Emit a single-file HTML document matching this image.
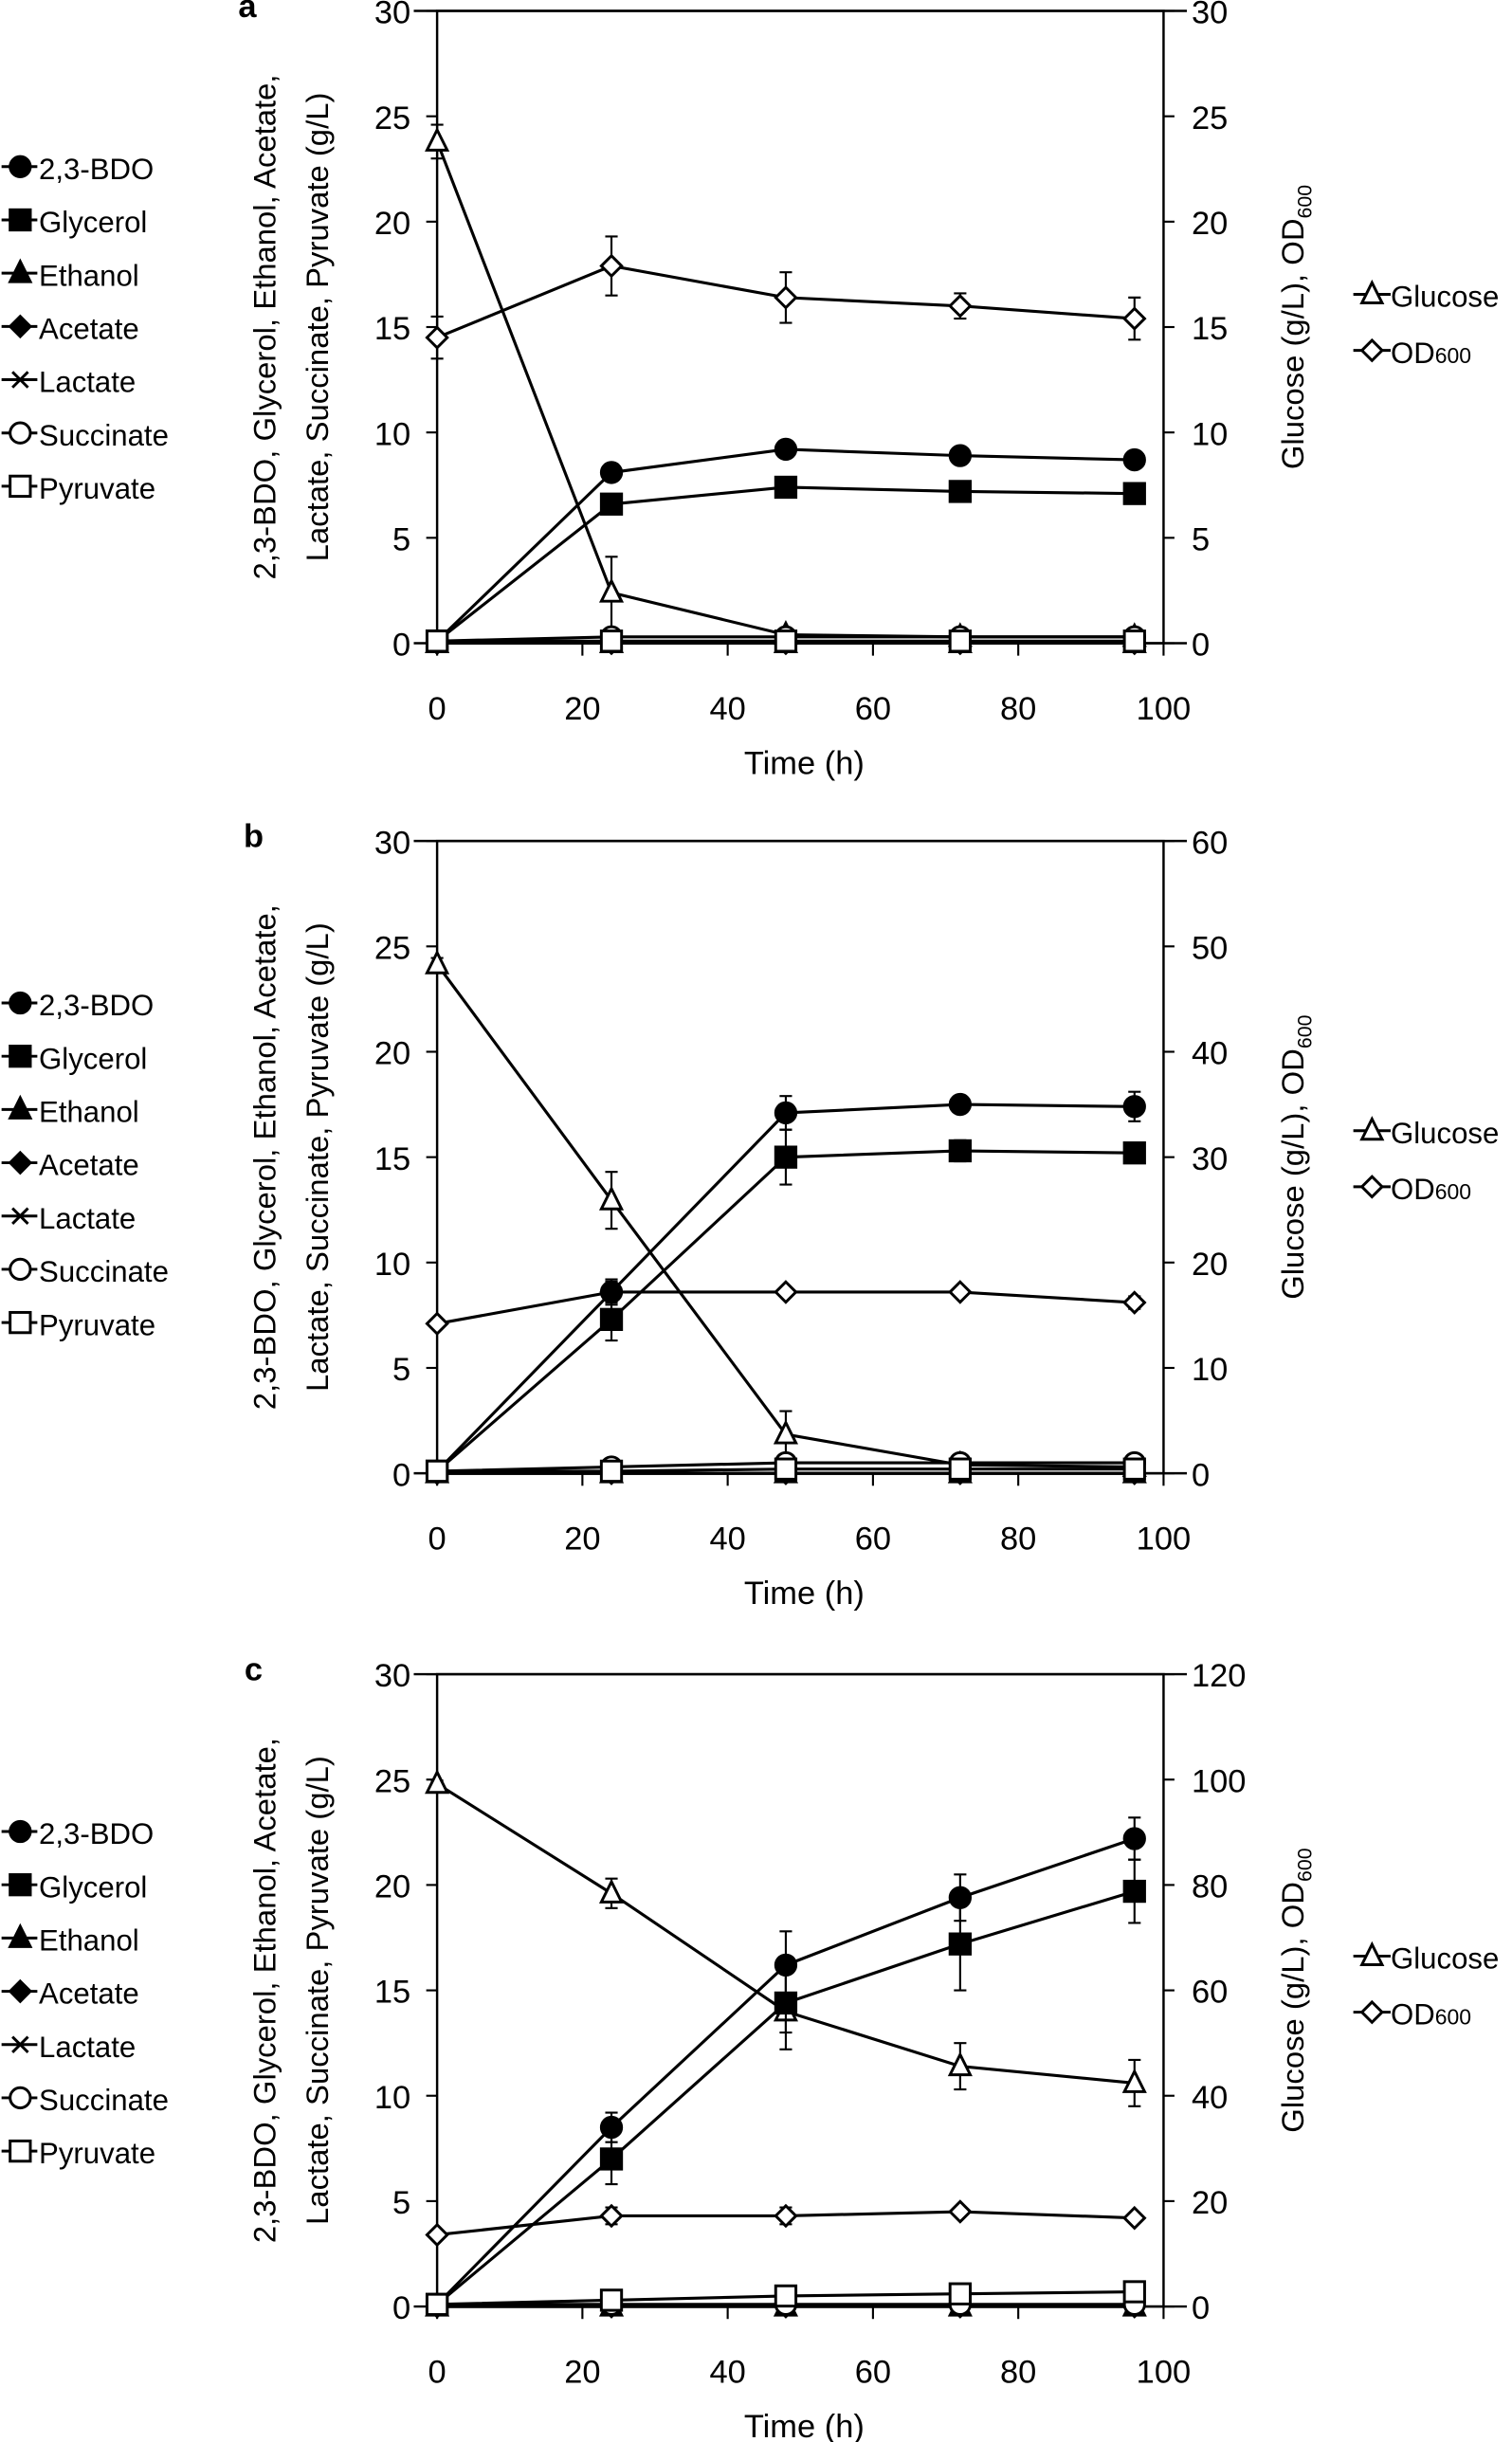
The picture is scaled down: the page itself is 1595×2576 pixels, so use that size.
<!DOCTYPE html>
<html><head><meta charset="utf-8"><style>
html,body{margin:0;padding:0;background:#fff;}
svg{display:block;}
text{font-family:"Liberation Sans",Arial,sans-serif;fill:#000;}
</style></head><body>
<svg id="chart" width="1595" height="2576" viewBox="0 0 972 1568" preserveAspectRatio="none" xmlns="http://www.w3.org/2000/svg"></svg>
<script>
const times = [0, 24, 48, 72, 96];
const xTicks = [0, 20, 40, 60, 80, 100];
const leftTicks = [0, 5, 10, 15, 20, 25, 30];
const rightTicksA = [0, 5, 10, 15, 20, 25, 30];
const rightTicksB = [0, 10, 20, 30, 40, 50, 60];
const rightTicksC = [0, 20, 40, 60, 80, 100, 120];

// Panel a
const bdoA = [0.1, 8.1, 9.2, 8.9, 8.7];
const glyA = [0.1, 6.6, 7.4, 7.2, 7.1];
const sucA = [0.1, 0.3, 0.3, 0.3, 0.3];
const pyrA = [0.1, 0.1, 0.1, 0.1, 0.1];
const ethA = [0, 0, 0, 0, 0];
const gluA = [23.8, 2.4, 0.4, 0.3, 0.3];
const gluErrA = [0.8, 1.7, 0.2, 0.1, 0.1];
const odA = [14.5, 17.9, 16.4, 16.0, 15.4];
const odErrA = [1.0, 1.4, 1.2, 0.6, 1.0];
const bdoErrA = [0, 0, 0.3, 0.3, 0];
const glyErrA = [0, 0, 0.2, 0.2, 0];

// Panel b
const bdoB = [0.1, 8.6, 17.1, 17.5, 17.4];
const bdoErrB = [0, 0.6, 0.8, 0.3, 0.7];
const glyB = [0.1, 7.3, 15.0, 15.3, 15.2];
const glyErrB = [0, 1.0, 1.3, 0.5, 0.3];
const sucB = [0.1, 0.3, 0.5, 0.5, 0.5];
const pyrB = [0.1, 0.1, 0.2, 0.2, 0.2];
const ethB = [0, 0, 0, 0, 0];
const gluB = [48.3, 25.9, 3.7, 0.8, 0.6];
const gluErrB = [0.6, 2.7, 2.2, 0.3, 0.3];
const odB = [14.2, 17.2, 17.2, 17.2, 16.2];
const odErrB = [0.3, 1.0, 0.4, 0.4, 0.6];

// Panel c
const bdoC = [0.1, 8.5, 16.2, 19.4, 22.2];
const bdoErrC = [0, 0.7, 1.6, 1.1, 1.0];
const glyC = [0.1, 7.0, 14.4, 17.2, 19.7];
const glyErrC = [0, 1.2, 1.4, 2.2, 1.5];
const pyrC = [0.1, 0.3, 0.5, 0.6, 0.7];
const sucC = [0.1, 0.1, 0.1, 0.1, 0.1];
const ethC = [0, 0, 0, 0, 0];
const gluC = [99.2, 78.4, 56.0, 45.6, 42.4];
const gluErrC = [0.6, 2.8, 7.2, 4.4, 4.4];
const odC = [13.6, 17.2, 17.2, 18.0, 16.8];
const odErrC = [0.4, 1.6, 1.6, 0.6, 0.6];

const legendLeft = ["2,3-BDO", "Glycerol", "Ethanol", "Acetate", "Lactate", "Succinate", "Pyruvate"];
const legendMarkers = ["circleF", "squareF", "triF", "diaF", "cross", "circleO", "squareO"];

const NS = "http://www.w3.org/2000/svg";
const svg = document.getElementById("chart");
function el(tag, attrs, parent) {
  const e = document.createElementNS(NS, tag);
  for (const k in attrs) e.setAttribute(k, attrs[k]);
  (parent || svg).appendChild(e);
  return e;
}
function marker(type, x, y, g) {
  const r = 6.5;
  let m;
  const fill = type.endsWith("F") ? "#000" : "#fff";
  if (type.startsWith("circle")) m = el("circle", {cx: x, cy: y, r: r, fill: fill, stroke: "#000", "stroke-width": 1.8}, g);
  else if (type.startsWith("square")) m = el("rect", {x: x - r, y: y - r, width: 2 * r, height: 2 * r, fill: fill, stroke: "#000", "stroke-width": 1.8}, g);
  else if (type.startsWith("tri")) m = el("polygon", {points: `${x},${y - r - 1} ${x - r},${y + r - 1} ${x + r},${y + r - 1}`, fill: fill, stroke: "#000", "stroke-width": 1.8}, g);
  else if (type.startsWith("dia")) m = el("polygon", {points: `${x},${y - r} ${x + r},${y} ${x},${y + r} ${x - r},${y}`, fill: fill, stroke: "#000", "stroke-width": 1.8}, g);
  else { m = el("path", {d: `M${x - 5},${y - 5}L${x + 5},${y + 5}M${x + 5},${y - 5}L${x - 5},${y + 5}`, stroke: "#000", "stroke-width": 1.8, fill: "none"}, g); }
  
  
  return m;
}

function panel(cfg) {
  const X0 = 281, X1 = 748, top = cfg.top, bot = cfg.top + 406;
  const g = el("g", {});
  
  
  const xs = t => X0 + (t / 100) * (X1 - X0);
  const yl = v => bot - (v / 30) * (bot - top);
  const yr = v => bot - (v / cfg.rmax) * (bot - top);

  const lab = el("text", {x: cfg.lx, y: top + 4, "font-size": 21, "font-weight": "bold", "text-anchor": "middle"}, g);
  lab.textContent = cfg.label;
  
  

  const frame = el("rect", {x: X0, y: top, width: X1 - X0, height: bot - top, fill: "none", stroke: "#000", "stroke-width": 1.5}, g);
  
  
  el("line", {x1: X0 - 15, y1: top, x2: X1 + 15, y2: top, stroke: "#000", "stroke-width": 1.5}, g);
  el("line", {x1: X0 - 15, y1: bot, x2: X1 + 15, y2: bot, stroke: "#000", "stroke-width": 1.5}, g);

  leftTicks.forEach(v => {
    const y = yl(v);
    el("line", {x1: X0 - 7, y1: y, x2: X0, y2: y, stroke: "#000", "stroke-width": 1.3}, g);
    const t = el("text", {x: X0 - 17, y: y + 8, "font-size": 21, "text-anchor": "end"}, g);
    t.textContent = v;
    
    
  });
  cfg.rticks.forEach(v => {
    const y = yr(v);
    el("line", {x1: X1, y1: y, x2: X1 + 7, y2: y, stroke: "#000", "stroke-width": 1.3}, g);
    const t = el("text", {x: X1 + 18, y: y + 8, "font-size": 21}, g);
    t.textContent = v;
    
    
  });
  xTicks.forEach(v => {
    const x = xs(v);
    el("line", {x1: x, y1: bot, x2: x, y2: bot + 8, stroke: "#000", "stroke-width": 1.3}, g);
    const t = el("text", {x: x, y: bot + 49, "font-size": 21, "text-anchor": "middle"}, g);
    t.textContent = v;
    
    
  });
  const xt = el("text", {x: 517, y: bot + 84, "font-size": 21, "text-anchor": "middle"}, g);
  xt.textContent = "Time (h)";
  
  

  const cy = (top + bot) / 2;
  const yt = el("text", {transform: `translate(177,${cy}) rotate(-90)`, "font-size": 20, "text-anchor": "middle"}, g);
  yt.textContent = "2,3-BDO, Glycerol, Ethanol, Acetate,";
  
  
  const yt2 = el("text", {transform: `translate(211,${cy}) rotate(-90)`, "font-size": 20, "text-anchor": "middle"}, g);
  yt2.textContent = "Lactate, Succinate, Pyruvate (g/L)";
  
  
  const rt = el("text", {transform: `translate(838,${cy}) rotate(-90)`, "font-size": 20, "text-anchor": "middle"}, g);
  rt.innerHTML = 'Glucose (g/L), OD<tspan font-size="13" dy="5">600</tspan>';
  
  

  function series(vals, errs, yf, type, name) {
    const sg = el("g", {}, g);
    
    
    const pts = vals.map((v, i) => `${xs(times[i])},${yf(v)}`).join(" ");
    el("polyline", {points: pts, fill: "none", stroke: "#000", "stroke-width": 1.9}, sg);
    if (errs) vals.forEach((v, i) => {
      if (!errs[i]) return;
      const x = xs(times[i]), y1 = yf(v + errs[i]), y2 = yf(Math.max(0, v - errs[i]));
      el("path", {d: `M${x},${y1}L${x},${y2}M${x - 4},${y1}L${x + 4},${y1}M${x - 4},${y2}L${x + 4},${y2}`, stroke: "#000", "stroke-width": 1.3, fill: "none"}, sg);
    });
    vals.forEach((v, i) => marker(type, xs(times[i]), yf(v), sg));
  }
  series(cfg.eth, null, yl, "triF", "ethanol");
  series(cfg.eth, null, yl, "diaF", "acetate");
  series(cfg.eth, null, yl, "cross", "lactate");
  series(cfg.od, cfg.odErr, yr, "diaO", "od600");
  series(cfg.glu, cfg.gluErr, yr, "triO", "glucose");
  series(cfg.bdo, cfg.bdoErr, yl, "circleF", "bdo");
  series(cfg.gly, cfg.glyErr, yl, "squareF", "glycerol");
  series(cfg.suc, null, yl, "circleO", "succinate");
  series(cfg.pyr, null, yl, "squareO", "pyruvate");

  legendLeft.forEach((name, i) => {
    const y = cfg.legTop + i * 34.2;
    const lg = el("g", {}, g);
    
    
    el("line", {x1: 1, y1: y, x2: 24, y2: y, stroke: "#000", "stroke-width": 1.8}, lg);
    marker(legendMarkers[i], 13, y, lg);
    const t = el("text", {x: 25, y: y + 8, "font-size": 19}, lg);
    t.textContent = name;
  });
  [["triO", "Glucose"], ["diaO", "OD"]].forEach((d, i) => {
    const y = cfg.rlegTop + i * 36;
    const lg = el("g", {}, g);
    
    
    el("line", {x1: 870, y1: y, x2: 894, y2: y, stroke: "#000", "stroke-width": 1.8}, lg);
    marker(d[0], 882, y, lg);
    const t = el("text", {x: 894, y: y + 8, "font-size": 19}, lg);
    if (d[1] === "OD") t.innerHTML = 'OD<tspan font-size="14">600</tspan>';
    else t.textContent = d[1];
  });
}

panel({label: "a", lx: 159, top: 7, rmax: 30, rticks: rightTicksA, legTop: 107, rlegTop: 189,
  bdo: bdoA, bdoErr: bdoErrA, gly: glyA, glyErr: glyErrA, suc: sucA, pyr: pyrA, eth: ethA,
  glu: gluA, gluErr: gluErrA, od: odA, odErr: odErrA});
panel({label: "b", lx: 163, top: 540, rmax: 60, rticks: rightTicksB, legTop: 644, rlegTop: 726,
  bdo: bdoB, bdoErr: bdoErrB, gly: glyB, glyErr: glyErrB, suc: sucB, pyr: pyrB, eth: ethB,
  glu: gluB, gluErr: gluErrB, od: odB, odErr: odErrB});
panel({label: "c", lx: 163, top: 1075, rmax: 120, rticks: rightTicksC, legTop: 1176, rlegTop: 1256,
  bdo: bdoC, bdoErr: bdoErrC, gly: glyC, glyErr: glyErrC, suc: sucC, pyr: pyrC, eth: ethC,
  glu: gluC, gluErr: gluErrC, od: odC, odErr: odErrC});
</script>
</body></html>
